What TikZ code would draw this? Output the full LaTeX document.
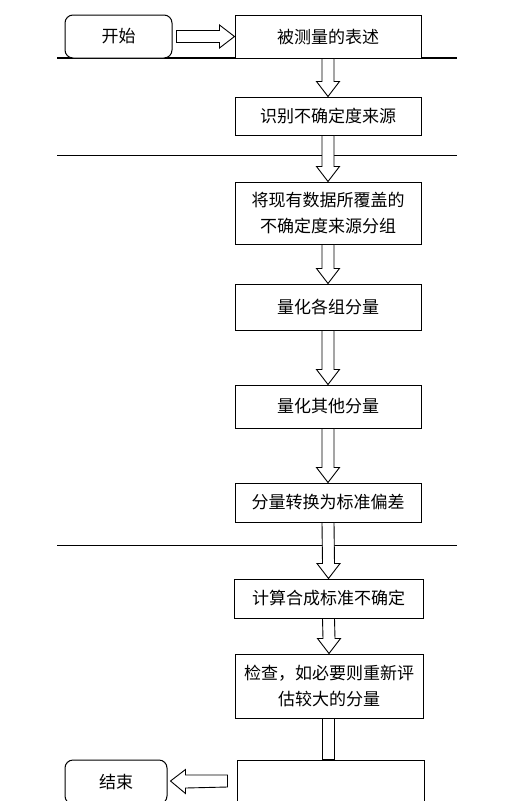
\documentclass[tikz,border=0pt]{standalone}
\usepackage{fontspec}
\setmainfont{Noto Sans CJK SC}
\usetikzlibrary{calc}

\begin{document}
\begin{tikzpicture}[x=1pt,y=-1pt,
	stepbox/.style={draw, line width=1pt, fill=white, minimum width=186pt, align=center, inner sep=0pt, font=\fontsize{17}{26}\selectfont},
	termbox/.style={draw, line width=1pt, fill=white, rounded corners=8pt, align=center, inner sep=0pt, font=\fontsize{17}{26}\selectfont},
	fatarrow/.style={draw, line width=0.9pt, fill=white, line join=miter},
	divider/.style={line width=1.4pt}]
	\def\shaft{6}
	\def\headw{11.5}
	\def\headl{15}

	\useasboundingbox (0,0) rectangle (516,801);
	\clip (0,0) rectangle (516,801);

	% dividing lines
	\draw[divider] (57,58) -- (457,58);
	\draw[divider] (57,155.5) -- (457,155.5);
	\draw[divider] (57,545.5) -- (457,545.5);

	\node[termbox, minimum width=107pt, minimum height=43pt] (Start) at (118.5,36.5) {开始};
	\node[stepbox, minimum height=43pt] (Describe) at (328,36.5) {被测量的表述};
	\node[stepbox, minimum height=38pt] (Identify) at (328,116) {识别不确定度来源};
	\node[stepbox, minimum height=62pt] (Group) at (328,213) {将现有数据所覆盖的\\不确定度来源分组};
	\node[stepbox, minimum height=46pt] (QuantGroup) at (328,307) {量化各组分量};
	\node[stepbox, minimum height=43pt] (QuantOther) at (328,406.5) {量化其他分量};
	\node[stepbox, minimum height=39pt] (Convert) at (328,502.5) {分量转换为标准偏差};
	\node[stepbox, minimum height=39pt, minimum width=189pt] (Combine) at (328.5,598.5) {计算合成标准不确定};
	\node[stepbox, minimum height=64pt, minimum width=188pt] (Check) at (329,686) {检查，如必要则重新评\\估较大的分量};
	\node[stepbox, minimum height=44pt, minimum width=187pt] (Last) at (330.5,782) {};
	\node[termbox, minimum width=102pt, minimum height=44pt] (End) at (116,782) {结束};

	% horizontal block arrows
	\draw[fatarrow] ($(Start.east)+(4,-\shaft)$) -- ($(Describe.west)+(-\headl,-\shaft)$) -- ++(0,{\shaft-\headw}) -- (Describe.west) -- ++(-\headl,\headw) -- ++(0,{\shaft-\headw}) -- ($(Start.east)+(4,\shaft)$) -- cycle;
	\draw[fatarrow] ($(Last.west)+(-9,-\shaft-1)$) -- ($(End.east)+(3+\headl,-\shaft-1)$) -- ++(0,{\shaft-\headw}) -- ($(End.east)+(3,-1)$) -- ++(\headl,{\headw+1}) -- ++(0,{\shaft-\headw}) -- ($(Last.west)+(-9,\shaft-1)$) -- cycle;

	% vertical block arrows
	\draw[fatarrow] ($(Describe.south)+(-\shaft,0)$) -- ($(Identify.north)+(-\shaft,-\headl)$) -- ++({\shaft-\headw},0) -- (Identify.north) -- ++(\headw,-\headl) -- ++({\shaft-\headw},0) -- ($(Describe.south)+(\shaft,0)$) -- cycle;
	\draw[fatarrow] ($(Identify.south)+(-\shaft,0)$) -- ($(Group.north)+(-\shaft,-\headl)$) -- ++({\shaft-\headw},0) -- (Group.north) -- ++(\headw,-\headl) -- ++({\shaft-\headw},0) -- ($(Identify.south)+(\shaft,0)$) -- cycle;
	\draw[fatarrow] ($(Group.south)+(-\shaft,0)$) -- ($(QuantGroup.north)+(-\shaft,-\headl)$) -- ++({\shaft-\headw},0) -- (QuantGroup.north) -- ++(\headw,-\headl) -- ++({\shaft-\headw},0) -- ($(Group.south)+(\shaft,0)$) -- cycle;
	\draw[fatarrow] ($(QuantGroup.south)+(-\shaft,0)$) -- ($(QuantOther.north)+(-\shaft,-\headl)$) -- ++({\shaft-\headw},0) -- (QuantOther.north) -- ++(\headw,-\headl) -- ++({\shaft-\headw},0) -- ($(QuantGroup.south)+(\shaft,0)$) -- cycle;
	\draw[fatarrow] ($(QuantOther.south)+(-\shaft,0)$) -- ($(Convert.north)+(-\shaft,-\headl)$) -- ++({\shaft-\headw},0) -- (Convert.north) -- ++(\headw,-\headl) -- ++({\shaft-\headw},0) -- ($(QuantOther.south)+(\shaft,0)$) -- cycle;
	\draw[fatarrow] ($(Convert.south)+(-\shaft,0)$) -- ($(Combine.north)+(-\shaft,-\headl)$) -- ++({\shaft-\headw},0) -- (Combine.north) -- ++(\headw,-\headl) -- ++({\shaft-\headw},0) -- ($(Convert.south)+(\shaft,0)$) -- cycle;
	\draw[fatarrow] ($(Combine.south)+(-\shaft,0)$) -- ($(Check.north)+(-\shaft,-\headl)$) -- ++({\shaft-\headw},0) -- (Check.north) -- ++(\headw,-\headl) -- ++({\shaft-\headw},0) -- ($(Combine.south)+(\shaft,0)$) -- cycle;
	\draw[fatarrow] ($(Check.south)+(-7,0)$) rectangle ($(Last.north)+(3.5,0)$);
\end{tikzpicture}
\end{document}
